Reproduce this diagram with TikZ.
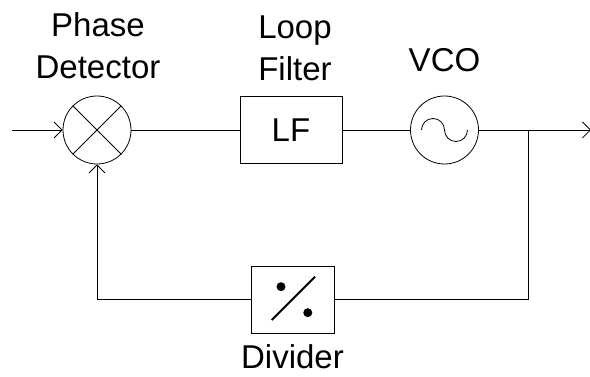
\documentclass[tikz,border=0pt]{standalone}
\usepackage{fontspec}
\setmainfont{Liberation Sans}
\usetikzlibrary{shapes, positioning, calc, arrows.meta}

\begin{document}
\begin{tikzpicture}[x=1pt, y=1pt, line width=0.8pt, 
    block/.style={rectangle, 
      draw, 
      minimum width=#1, 
      minimum height=67pt, 
      inner sep=0pt, 
      font=\fontsize{33}{42}\selectfont}, 
    element/.style={circle, 
      draw, 
      minimum size=68pt, 
      inner sep=0pt}, 
    title/.style={align=center, 
      inner sep=0pt, 
      font=\fontsize{33}{42}\selectfont}, 
    signal/.style={-{Straight Barb[length=8pt, width=16pt]}}]
  \useasboundingbox (0,0) rectangle (590,377);


  \node [element] (pd) at (97,247) {};
  \draw (pd.45) -- (pd.225) (pd.135) -- (pd.315);

  \node [above=16pt of pd, 
    xshift=1pt, 
    title] (pdtitle) {Phase\\Detector};


  \node [block=102pt] (lf) at (291,247) {LF};

  \node [above=14.5pt of lf, 
    xshift=4pt, 
    title] (lftitle) {Loop\\Filter};


  \node [element] (vco) at (444.5,247) {};
  \draw ($(vco)+(-23,0)$) arc[start angle=180, end angle=0, radius=11.5] 
  arc[start angle=180, end angle=360, radius=11.5];

  \node [above=23pt of vco, 
    title] (vcotitle) {VCO};


  \node [block=83pt] (div) at (292.5,77.5) {};
  \fill ($(div)+(-11.5,12.8)$) circle (4.5);
  \fill ($(div)+(15.3,-13.2)$) circle (4.5);
  \draw[line width=2pt] ($(div)+(-20.8,-20.5)$) -- ($(div)+(22.5,22.8)$);

  \node [below=11pt of div, 
    title] (divtitle) {Divider};


  \coordinate (in) at (12,247);
  \coordinate (out) at (591,247);
  \coordinate (tap) at ($(vco.east)+(49.5,0)$);

  \draw[signal] (in) -- (pd.west);
  \draw (pd.east) -- (lf.west);
  \draw (lf.east) -- (vco.west);
  \draw[signal] (vco.east) -- (out);
  \draw (tap) |- (div.east);
  \draw[signal] (div.west) -| (pd.south);

\end{tikzpicture}
\end{document}
